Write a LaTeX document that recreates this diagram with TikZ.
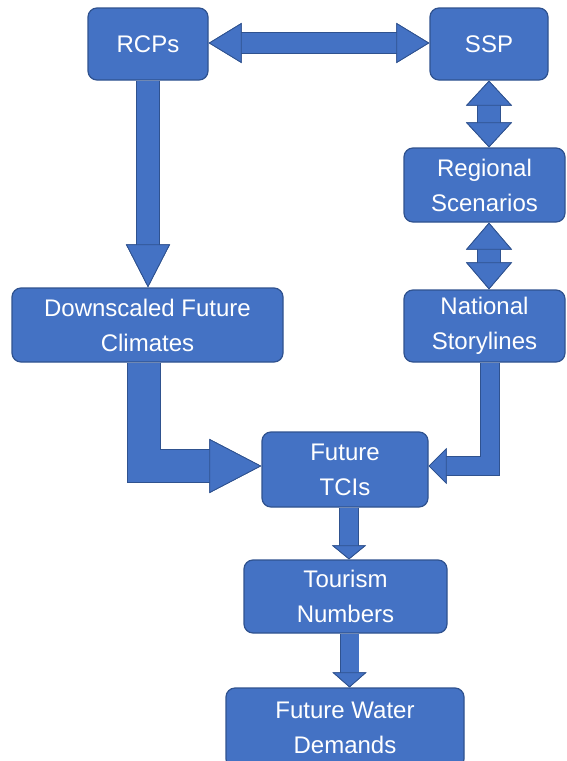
\documentclass[tikz,border=0pt]{standalone}
\usepackage{fontspec}
\setmainfont{Liberation Sans}
\usetikzlibrary{arrows.meta}
\definecolor{boxblue}{HTML}{4472C4}
\definecolor{boxedge}{HTML}{2F528F}

\begin{document}
\begin{tikzpicture}[x=1pt,y=-1pt,
  box/.style={draw=boxedge, line width=1.2pt, fill=boxblue, rounded corners=9pt,
    text=white, align=center, inner sep=0pt, font=\fontsize{24}{35}\selectfont},
  fat/.style={draw=boxblue, line width=#1,
    preaction={draw=boxedge, line width=#1+1.6pt}},
  ]
  \useasboundingbox (0,0) rectangle (566,761);

  % boxes
  \node[box, minimum width=120pt, minimum height=72pt] (rcp) at (148,44) {RCPs};
  \node[box, minimum width=118pt, minimum height=72pt] (ssp) at (489,44) {SSP};
  \node[box, minimum width=161pt, minimum height=74pt] (reg) at (484.5,185) {Regional\\Scenarios};
  \node[box, minimum width=161pt, minimum height=72pt] (nat) at (484.5,326) {National\\Storylines};
  \node[box, minimum width=271pt, minimum height=74pt] (dfc) at (147.5,325) {Downscaled Future\\Climates};
  \node[box, minimum width=166pt, minimum height=75pt] (tci) at (345,469.5) {Future\\TCIs};
  \node[box, minimum width=203pt, minimum height=73pt] (tour) at (345.5,596.5) {Tourism\\Numbers};
  \node[box, minimum width=238pt, minimum height=80pt] (water) at (345,728) {Future Water\\Demands};

  % connectors
  \draw[fat=20pt, {Triangle[length=33pt,width=40pt,line width=0.8pt,color=boxedge,fill=boxblue]}-{Triangle[length=33pt,width=40pt,line width=0.8pt,color=boxedge,fill=boxblue]}]
    ([yshift=1pt]rcp.east) -- ([yshift=1pt]ssp.west);
  \draw[fat=22pt, -{Triangle[length=43pt,width=44pt,line width=0.8pt,color=boxedge,fill=boxblue]}]
    (rcp.south) -- (rcp.south |- dfc.north);
  \draw[fat=22pt, {Triangle[length=25pt,width=46pt,line width=0.8pt,color=boxedge,fill=boxblue]}-{Triangle[length=25pt,width=46pt,line width=0.8pt,color=boxedge,fill=boxblue]}]
    (ssp.south) -- (ssp.south |- reg.north);
  \draw[fat=22pt, {Triangle[length=27pt,width=46pt,line width=0.8pt,color=boxedge,fill=boxblue]}-{Triangle[length=27pt,width=46pt,line width=0.8pt,color=boxedge,fill=boxblue]}]
    ([xshift=4.5pt]reg.south) -- ([xshift=4.5pt]nat.north);
  \draw[fat=32pt, -{Triangle[length=52pt,width=54pt,line width=0.8pt,color=boxedge,fill=boxblue]}]
    ([xshift=-3.5pt]dfc.south) |- ([yshift=3.5pt]tci.west);
  \draw[fat=18pt, -{Triangle[length=18pt,width=36pt,line width=0.8pt,color=boxedge,fill=boxblue]}]
    ([xshift=5.5pt]nat.south) |- ([yshift=3.5pt]tci.east);
  \draw[fat=18pt, -{Triangle[length=14pt,width=34pt,line width=0.8pt,color=boxedge,fill=boxblue]}]
    ([xshift=4pt]tci.south) -- ([xshift=4pt]tci.south |- tour.north);
  \draw[fat=18pt, -{Triangle[length=15pt,width=34pt,line width=0.8pt,color=boxedge,fill=boxblue]}]
    ([xshift=4pt]tour.south) -- ([xshift=4pt]tour.south |- water.north);
\end{tikzpicture}
\end{document}
